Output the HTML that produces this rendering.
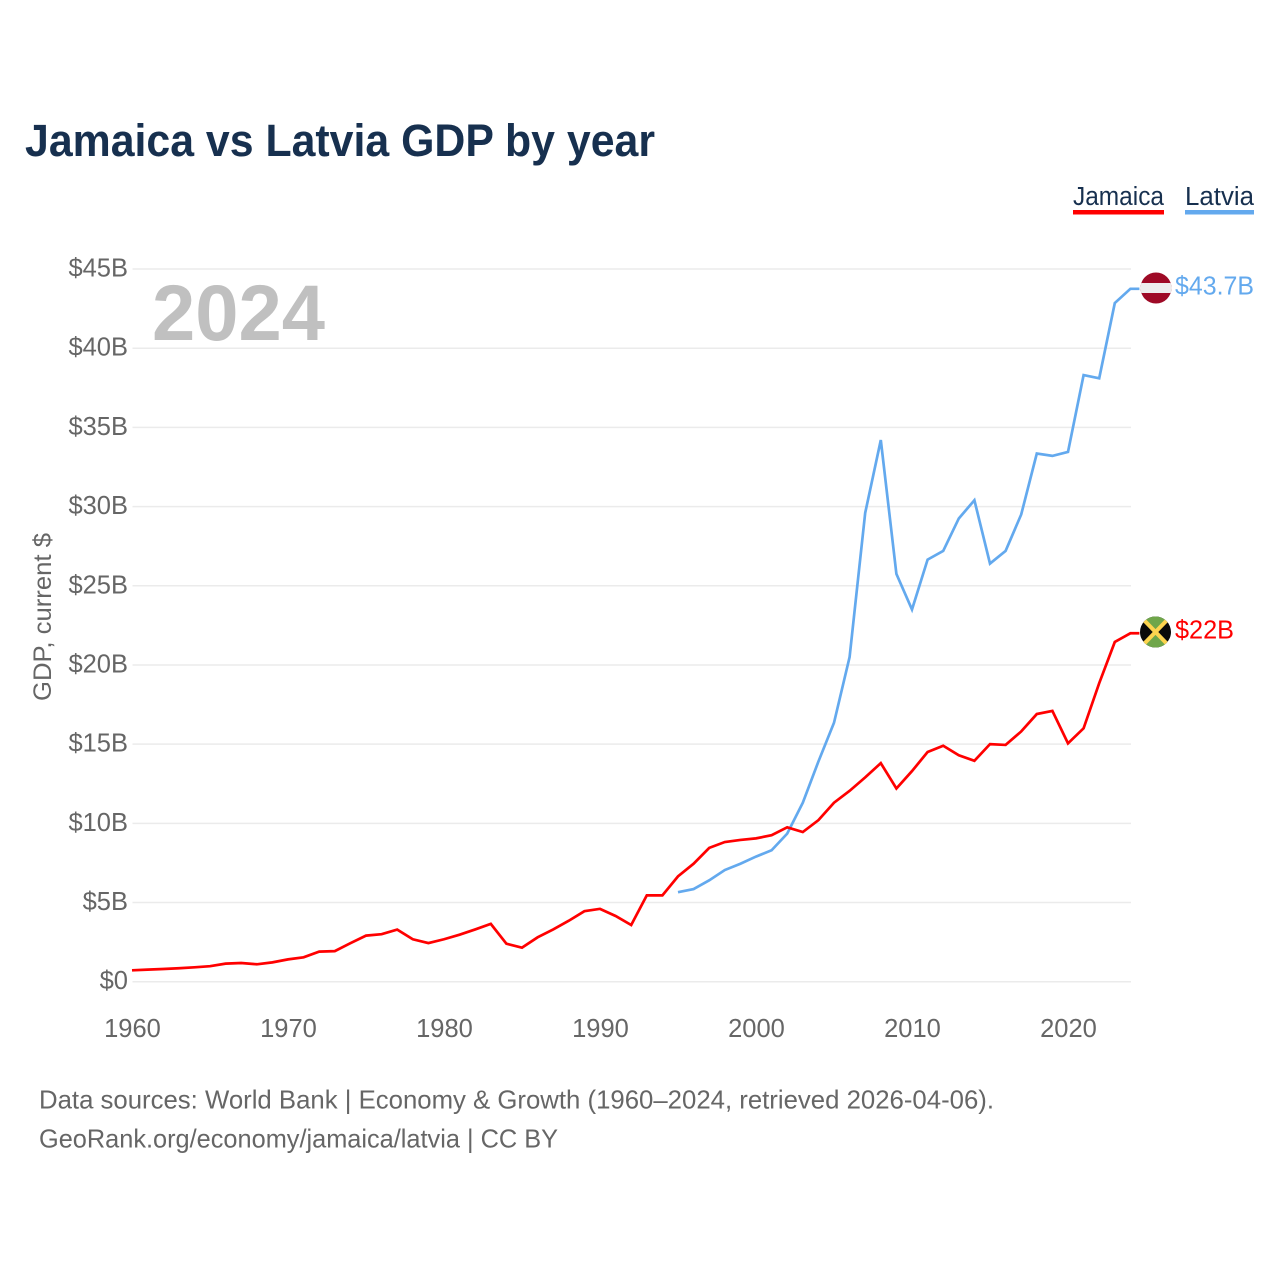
<!DOCTYPE html>
<html lang="en">
<head>
<meta charset="utf-8">
<title>Jamaica vs Latvia GDP by year</title>
<style>
html,body{margin:0;padding:0;background:#fff;}
svg{display:block;font-family:"Liberation Sans",sans-serif;}
</style>
</head>
<body>
<svg id="chart" width="1280" height="1280" viewBox="0 0 1280 1280" xmlns="http://www.w3.org/2000/svg">
  <defs>
    <clipPath id="clip-lv"><circle cx="1156" cy="288" r="15.5"/></clipPath>
    <clipPath id="clip-jm"><circle cx="1155.5" cy="632" r="15.5"/></clipPath>
  </defs>
  <rect x="0" y="0" width="1280" height="1280" fill="#fff"/>
  <text x="25" y="156" font-size="45" font-weight="700" fill="#17304f" textLength="630" lengthAdjust="spacingAndGlyphs">Jamaica vs Latvia GDP by year</text>

  <g id="grid"></g>
  <g id="yticks"></g>
  <g id="xticks"></g>

  <text x="152" y="340" font-size="79" font-weight="700" fill="#c0c0c0" textLength="173" lengthAdjust="spacingAndGlyphs">2024</text>
  <text transform="translate(51,701) rotate(-90)" font-size="25" fill="#666" textLength="168" lengthAdjust="spacingAndGlyphs">GDP, current $</text>

  <g id="series"></g>

  <g clip-path="url(#clip-lv)">
    <rect x="1140" y="272" width="32" height="32" fill="#9e0a26"/>
    <rect x="1140" y="283" width="32" height="10" fill="#ededed"/>
  </g>
  <g clip-path="url(#clip-jm)">
    <rect x="1139" y="616" width="33" height="32" fill="#0a0a0a"/>
    <polygon points="1140,616 1171,616 1155.5,632" fill="#6fa64a"/>
    <polygon points="1140,648 1171,648 1155.5,632" fill="#6fa64a"/>
    <line x1="1140" y1="616" x2="1171" y2="648" stroke="#fdd44f" stroke-width="4"/>
    <line x1="1171" y1="616" x2="1140" y2="648" stroke="#fdd44f" stroke-width="4"/>
  </g>
  <g id="endlabels"></g>

  <g>
    <g>
      <text x="1073" y="205" font-size="25.5" fill="#17304f" textLength="91" lengthAdjust="spacingAndGlyphs">Jamaica</text>
      <rect x="1073" y="210" width="91" height="4.5" fill="#ff0000"/>
    </g>
    <g>
      <text x="1185" y="205" font-size="25.5" fill="#17304f" textLength="69" lengthAdjust="spacingAndGlyphs">Latvia</text>
      <rect x="1185" y="210" width="69" height="4.5" fill="#63a9ee"/>
    </g>
  </g>

  <text x="39" y="1108.5" font-size="26" fill="#666" textLength="955" lengthAdjust="spacingAndGlyphs">Data sources: World Bank | Economy &amp; Growth (1960–2024, retrieved 2026-04-06).</text>
  <text x="39" y="1147.5" font-size="26" fill="#666" textLength="519" lengthAdjust="spacingAndGlyphs">GeoRank.org/economy/jamaica/latvia | CC BY</text>
</svg>
<script>
const jamaicaStartYear = 1960;
const jamaicaValues = [0.72,0.76,0.80,0.85,0.91,0.98,1.14,1.18,1.10,1.22,1.41,1.54,1.90,1.93,2.43,2.91,3.00,3.29,2.68,2.44,2.68,2.97,3.30,3.65,2.40,2.15,2.80,3.30,3.85,4.45,4.60,4.15,3.58,5.45,5.45,6.65,7.45,8.45,8.82,8.95,9.05,9.25,9.75,9.45,10.20,11.30,12.05,12.90,13.80,12.20,13.30,14.50,14.90,14.30,13.95,15.00,14.95,15.80,16.90,17.10,15.05,16.00,18.85,21.45,22.00];
const latviaStartYear = 1995;
const latviaValues = [5.65,5.85,6.40,7.05,7.45,7.90,8.30,9.35,11.30,13.90,16.35,20.50,29.60,34.20,25.75,23.50,26.65,27.20,29.25,30.40,26.40,27.20,29.50,33.35,33.20,33.45,38.30,38.10,42.85,43.75];
const yTickValues = [0,5,10,15,20,25,30,35,40,45];
const xTickYears = [1960,1970,1980,1990,2000,2010,2020];
const jamaicaLabel = "$22B";
const latviaLabel = "$43.7B";

const NS = "http://www.w3.org/2000/svg";
function xScale(year){ return 132 + (year - 1960) * (1130.4 - 132) / 64; }
function yScale(v){ return 981.7 - v * (981.7 - 269) / 45; }
function make(tag, attrs, parent){
  const el = document.createElementNS(NS, tag);
  for (const k in attrs) el.setAttribute(k, attrs[k]);
  parent.appendChild(el);
  return el;
}
const grid = document.getElementById('grid');
const yticks = document.getElementById('yticks');
const xticks = document.getElementById('xticks');
const series = document.getElementById('series');
const endlabels = document.getElementById('endlabels');

yTickValues.forEach(function(v){
  const line = make('line', {x1:132.5, x2:1131, y1:yScale(v), y2:yScale(v), stroke:'#ebebeb', 'stroke-width':1.5}, grid);
  
  
  const t = make('text', {x:128, y:yScale(v)+7.5, 'text-anchor':'end', 'font-size':25.5, fill:'#666'}, yticks);
  t.textContent = v === 0 ? '$0' : '$' + v + 'B';
  
  
});
xTickYears.forEach(function(y){
  const t = make('text', {x:xScale(y)+0.5, y:1037, 'text-anchor':'middle', 'font-size':25.5, fill:'#666'}, xticks);
  t.textContent = String(y);
  
  
});
function linePoints(start, values){
  const pts = values.map(function(v, i){ return xScale(start + i).toFixed(2) + ',' + yScale(v).toFixed(2); });
  const last = values[values.length - 1];
  pts.push((xScale(start + values.length - 1) + 9).toFixed(2) + ',' + yScale(last).toFixed(2));
  return pts.join(' ');
}
const latviaLine = make('polyline', {points:linePoints(latviaStartYear, latviaValues), fill:'none', stroke:'#63a9ee', 'stroke-width':2.7, 'stroke-linejoin':'miter'}, series);


const jamaicaLine = make('polyline', {points:linePoints(jamaicaStartYear, jamaicaValues), fill:'none', stroke:'#ff0000', 'stroke-width':2.7, 'stroke-linejoin':'miter'}, series);



const lvText = make('text', {x:1175, y:yScale(latviaValues[latviaValues.length-1])+5.5, 'font-size':25.5, fill:'#63a9ee', textLength:79, lengthAdjust:'spacingAndGlyphs'}, endlabels);
lvText.textContent = latviaLabel;


const jmText = make('text', {x:1175, y:yScale(jamaicaValues[jamaicaValues.length-1])+5, 'font-size':25.5, fill:'#ff0000', textLength:59, lengthAdjust:'spacingAndGlyphs'}, endlabels);
jmText.textContent = jamaicaLabel;


</script>
</body>
</html>
